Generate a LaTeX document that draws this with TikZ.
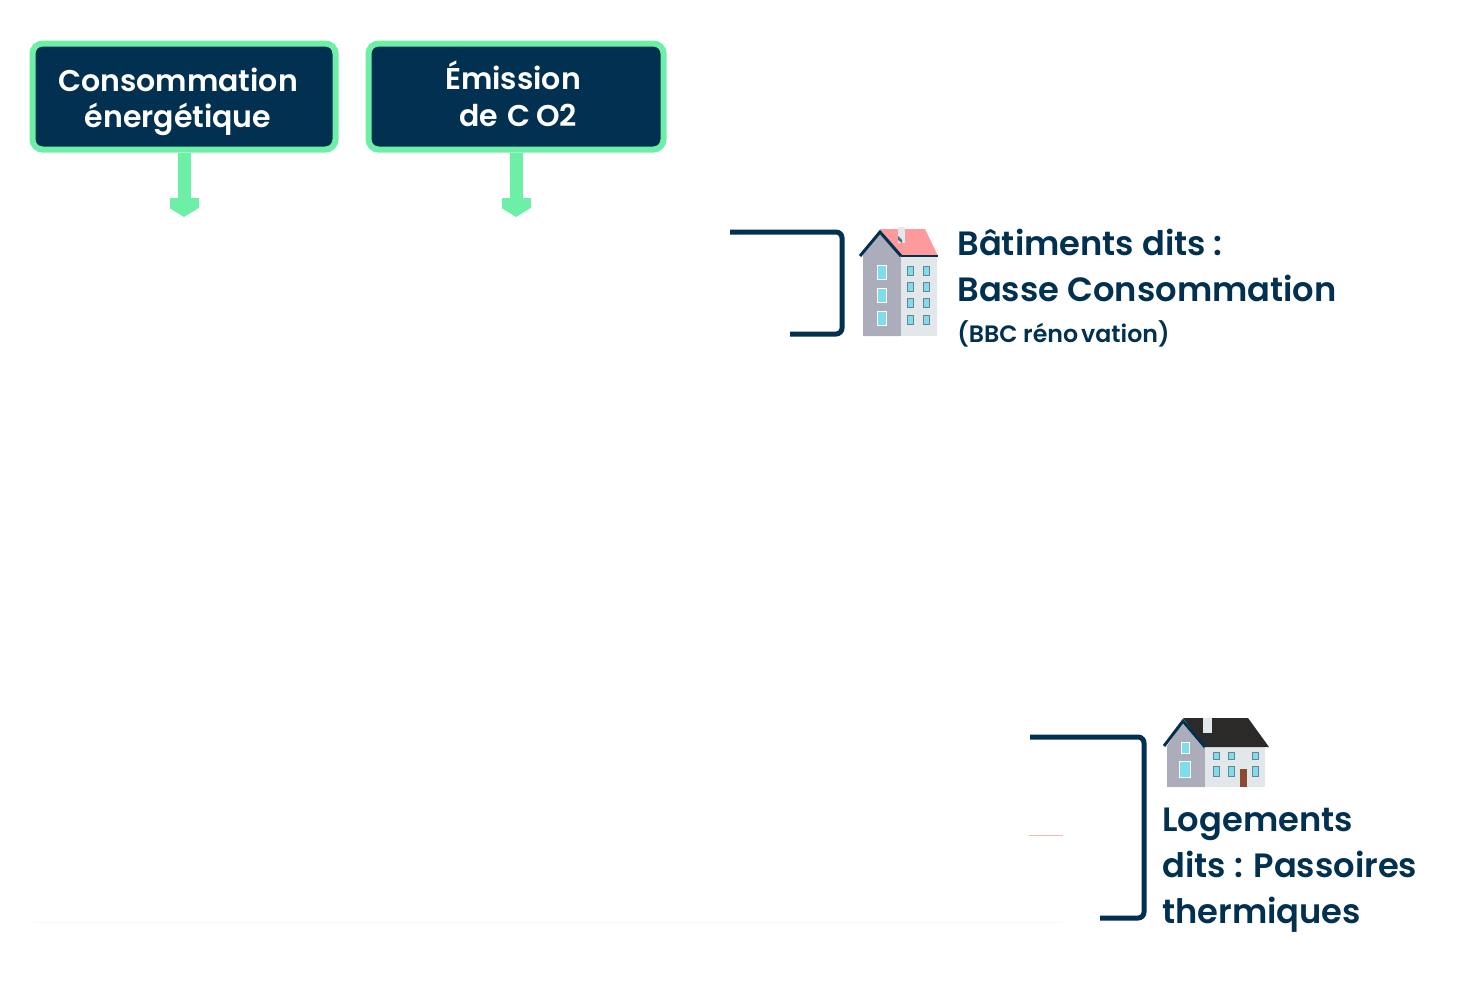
\documentclass[tikz,border=0pt]{standalone}
\usepackage{fontspec}
\setmainfont{Poppins}[BoldFont={Poppins SemiBold}]
\usetikzlibrary{arrows.meta}
\definecolor{navy}{HTML}{023050}
\definecolor{mint}{HTML}{6EEFA8}
\definecolor{wallgray}{HTML}{ABADBA}
\definecolor{wallpale}{HTML}{E2E7EA}
\definecolor{pinkroof}{HTML}{FF9A9C}
\definecolor{blackroof}{HTML}{2B2A28}
\definecolor{glass}{HTML}{7FDDEB}
\definecolor{salmon}{HTML}{F9B9AD}
\definecolor{doorbrown}{HTML}{8A4B32}
\tikzset{
  boxtitle/.style={draw=mint,fill=navy,line width=3pt,rounded corners=5pt,inner sep=0pt,minimum height=53pt},
  boxtext/.style={text=white,font=\bfseries\fontsize{15}{18.3}\selectfont,align=center,inner sep=0pt},
  downarrow/.style={draw=mint,line width=6.5pt,-{Rectangle[length=5pt,width=14.5pt,sep=0pt]Triangle[length=4.5pt,width=14.5pt]}},
  bracket/.style={draw=navy,line width=2.5pt,rounded corners=3pt},
  heading/.style={text=navy,font=\bfseries\fontsize{16.85}{23}\selectfont,inner sep=0pt,anchor=base west},
  subheading/.style={text=navy,font=\bfseries\fontsize{11.85}{14}\selectfont,inner sep=0pt,anchor=base west},
  window/.style={fill=glass,draw=white,line width=0.5pt},
  smallwindow/.style={fill=glass,draw=navy!60,line width=0.3pt}
}
\begin{document}
\begin{tikzpicture}[x=0.5pt,y=-0.5pt]
  \useasboundingbox (0,0) rectangle (1460,980);

  \node[boxtitle,minimum width=151.5pt] (conso) at (184,96.5) {};
  \node[boxtitle,minimum width=147.5pt] (emission) at (516,96.5) {};
  \node[boxtext] (consotext) at (178,102) {Consommation\\énergétique};
  \node[boxtext] (emissiontext) at (518,94) {Émission\hspace*{5pt}\\de\kern1pt\ C\kern3pt O2};

  \coordinate (consoend) at (184,217);
  \coordinate (emissionend) at (516,217);
  \draw[downarrow] (conso.south) -- (consoend);
  \draw[downarrow] (emission.south) -- (emissionend);

  \coordinate (bbcstart) at (730,232);
  \coordinate (bbccorner) at (842,232);
  \coordinate (bbclow) at (842,334);
  \coordinate (bbcend) at (790,334);
  \draw[bracket] (bbcstart) -- (bbccorner) -- (bbclow) -- (bbcend);

  \coordinate (passoirestart) at (1030,737);
  \coordinate (passoirecorner) at (1144,737);
  \coordinate (passoirelow) at (1144,918);
  \coordinate (passoireend) at (1100,918);
  \draw[bracket] (passoirestart) -- (passoirecorner) -- (passoirelow) -- (passoireend);

  \draw[draw=salmon,line width=0.6pt] (1029,835.5) -- (1063,835.5);
  \draw[draw=black!3,line width=0.4pt] (33,922.5) -- (1063,922.5);

  \node[heading] (bbcone) at (957,255) {Bâtiments dits :};
  \node[heading] (bbctwo) at (957,301) {Basse Consommation};
  \node[subheading] (bbcthree) at (957,342) {(BBC réno\kern1.5pt vation)};

  \node[heading] (passoireone) at (1162,831) {Logements};
  \node[heading] (passoiretwo) at (1162,877) {dits : Passoires};
  \node[heading] (passoirethree) at (1162,923) {thermiques};

  % immeuble
  \fill[wallgray] (863,336) -- (863,255) -- (880,234) -- (901,256) -- (901,336) -- cycle;
  \fill[wallpale] (901,256) rectangle (937,336);
  \fill[pinkroof] (880,229) -- (925,229) -- (938,256) -- (901,256) -- cycle;
  \fill[wallpale] (898,227) rectangle (905,243);
  \fill[navy!70] (898,236) -- (902,240) -- (902,243) -- (898,240) -- cycle;
  \draw[navy,line width=1.5pt] (860,256) -- (880,232) -- (901,256);
  \draw[navy,line width=0.8pt] (901,256) -- (938,256);
  \foreach \y in {265,288,311}
    \draw[window] (877,\y) rectangle (886,\y+14);
  \foreach \x in {907,923}
    \foreach \y in {266,282,298,315}
      \draw[smallwindow] (\x,\y) rectangle (\x+6,\y+9);

  % maison
  \fill[wallgray] (1167,787) -- (1167,746) -- (1183,722) -- (1205,747) -- (1205,787) -- cycle;
  \fill[wallpale] (1205,747) rectangle (1265,787);
  \fill[blackroof] (1183,718) -- (1248,718) -- (1269,747) -- (1205,747) -- cycle;
  \fill[wallpale] (1203,718) rectangle (1212,733);
  \draw[navy,line width=1.5pt] (1164,746) -- (1183,721) -- (1205,747);
  \draw[window] (1181,742) rectangle (1189,753);
  \draw[window] (1179,761) rectangle (1190,777);
  \foreach \x in {1213,1228,1252} {
    \draw[smallwindow] (\x,752) rectangle (\x+6,759);
    \draw[smallwindow] (\x,766) rectangle (\x+6,776);
  }
  \fill[doorbrown] (1240,769) rectangle (1247,787);
\end{tikzpicture}
\end{document}
